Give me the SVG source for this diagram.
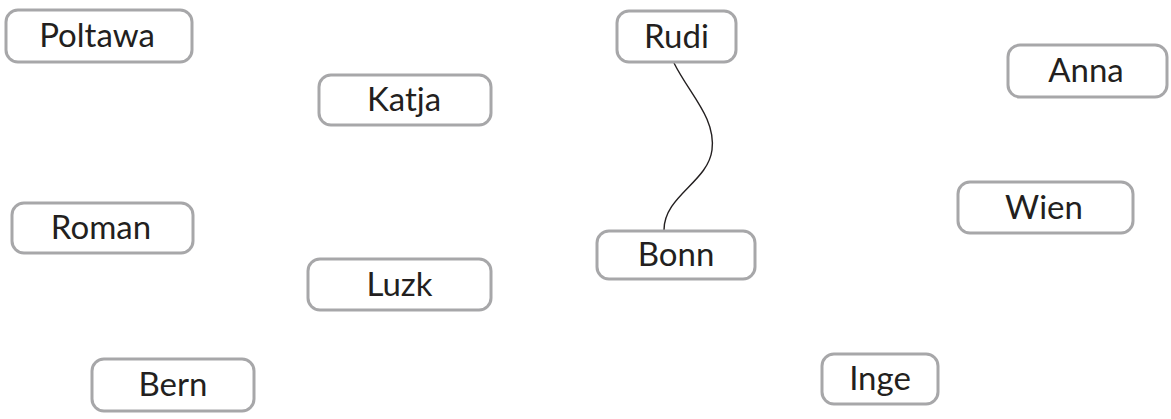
<svg xmlns="http://www.w3.org/2000/svg" width="1171" height="419" viewBox="0 0 1171 419">
<style>
.box{fill:#fff;stroke:#a7a7a9;stroke-width:3}
.lbl{font-family:Lato,"Noto Sans",sans-serif;font-size:33px;fill:#231f20;text-anchor:middle}
.edge{fill:none;stroke:#231f20;stroke-width:1.4}
</style>
<rect width="1171" height="419" fill="#fff"/>
<g id="connectors">
<path class="edge" d="M674,63 C690,95 716,118 712,150 C708,182 664,196 664,230"/>
</g>
<g id="Poltawa"><rect class="box" x="6" y="10" width="186" height="52" rx="12"/><text class="lbl" x="97" y="47">Poltawa</text></g>
<g id="Rudi"><rect class="box" x="617" y="11" width="119" height="51" rx="12"/><text class="lbl" x="676.5" y="48">Rudi</text></g>
<g id="Anna"><rect class="box" x="1008" y="45" width="159" height="52" rx="12"/><text class="lbl" x="1086" y="82">Anna</text></g>
<g id="Katja"><rect class="box" x="319" y="75" width="172" height="50" rx="12"/><text class="lbl" x="404" y="111">Katja</text></g>
<g id="Roman"><rect class="box" x="12" y="203" width="181" height="50" rx="12"/><text class="lbl" x="101" y="239">Roman</text></g>
<g id="Wien"><rect class="box" x="958" y="182" width="175" height="51" rx="12"/><text class="lbl" x="1044" y="219">Wien</text></g>
<g id="Bonn"><rect class="box" x="597" y="231" width="158" height="48" rx="12"/><text class="lbl" x="676" y="266">Bonn</text></g>
<g id="Luzk"><rect class="box" x="308" y="259" width="183" height="51" rx="12"/><text class="lbl" x="399.5" y="296">Luzk</text></g>
<g id="Bern"><rect class="box" x="92" y="359" width="162" height="52" rx="12"/><text class="lbl" x="173" y="396">Bern</text></g>
<g id="Inge"><rect class="box" x="822" y="354" width="116" height="50" rx="12"/><text class="lbl" x="880" y="390">Inge</text></g>
</svg>
